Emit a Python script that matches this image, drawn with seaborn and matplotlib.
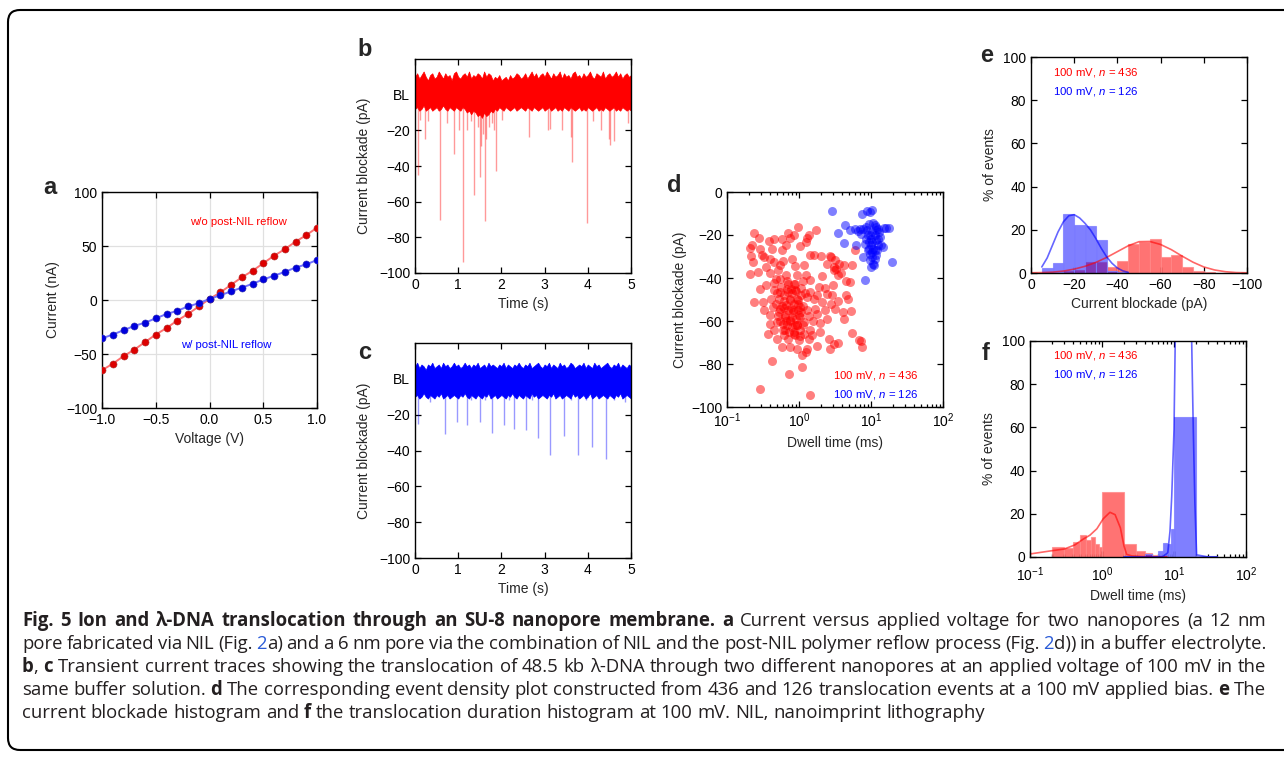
import numpy as np
import matplotlib
matplotlib.use("Agg")
import matplotlib.pyplot as plt
import seaborn as sns
from matplotlib.patches import FancyBboxPatch
from matplotlib.transforms import IdentityTransform

sns.set_style("ticks")
plt.rcParams['font.family'] = ['Liberation Sans', 'DejaVu Sans']
plt.rcParams['mathtext.fontset'] = 'custom'
plt.rcParams['mathtext.rm'] = 'Liberation Sans'
plt.rcParams['mathtext.it'] = 'Liberation Sans:italic'
plt.rcParams['mathtext.bf'] = 'Liberation Sans:bold'

W, H = 1284, 757

# ---- panel a: I-V curves
voltage = [-1.0, -0.9, -0.8, -0.7, -0.6, -0.5, -0.4, -0.3, -0.2, -0.1, 0.0,
           0.1, 0.2, 0.3, 0.4, 0.5, 0.6, 0.7, 0.8, 0.9, 1.0]
current_no_reflow = [-65, -59, -52, -46, -39, -32, -26, -19, -13, -6, 1,
                     7, 14, 21, 27, 34, 41, 47, 54, 60, 67]
current_reflow = [-35.5, -32, -28, -24, -21, -17, -13, -10, -6, -3, 1,
                  4.3, 8, 11.4, 15, 19, 22.5, 26, 30, 33, 37]

# ---- panels b, c: current traces (baseline band envelope every 0.05 s + events)
trace_time = np.round(np.arange(0, 5.001, 0.05), 2)
b_upper = [10, 12, 9, 11, 13, 10, 8, 11, 12, 9,
           10, 13, 11, 9, 12, 10, 11, 8, 12, 13,
           10, 9, 11, 12, 10, 13, 9, 11, 10, 12,
           11, 9, 13, 10, 12, 11, 8, 10, 9, 11,
           8, 9, 10, 8, 11, 9, 10, 12, 11, 9,
           10, 12, 9, 11, 13, 10, 12, 9, 11, 12,
           10, 13, 11, 9, 12, 10, 11, 13, 9, 12,
           10, 11, 9, 12, 13, 10, 11, 9, 12, 10,
           11, 13, 10, 9, 12, 11, 10, 13, 9, 11,
           12, 10, 11, 13, 10, 12, 9, 11, 12, 10, 11]
b_lower = [-8, -7, -9, -8, -6, -9, -8, -7, -9, -8,
           -7, -9, -8, -6, -8, -9, -7, -8, -9, -7,
           -8, -9, -7, -8, -10, -9, -11, -9, -10, -12,
           -11, -13, -10, -12, -11, -9, -10, -8, -9, -7,
           -8, -9, -7, -8, -9, -8, -7, -9, -8, -7,
           -8, -9, -7, -8, -9, -7, -8, -9, -8, -7,
           -9, -8, -7, -9, -8, -7, -9, -8, -9, -7,
           -8, -9, -7, -8, -9, -8, -7, -9, -8, -9,
           -7, -8, -9, -8, -7, -9, -8, -9, -7, -8,
           -9, -8, -7, -9, -8, -9, -7, -8, -9, -8, -9]
b_event_t = [0.08, 0.11, 0.23, 0.30, 0.57, 0.73, 0.90, 1.02, 1.11, 1.21, 1.30, 1.37, 1.45,
             1.50, 1.52, 1.58, 1.61, 1.65, 1.72, 1.78, 1.82, 1.87, 2.02, 2.65, 3.08, 3.12,
             3.40, 3.61, 3.63, 3.99, 4.12, 4.31, 4.49, 4.52, 4.61, 4.92]
b_event_depth = [-45, -14, -25, -15, -70, -16, -33, -20, -94, -20, -15, -56, -18,
                 -46, -29, -22, -71, -25, -18, -16, -20, -43, -14, -24, -20, -19,
                 -20, -24, -38, -72, -15, -20, -25, -28, -26, -16]

c_upper = [7, 9, 6, 8, 7, 5, 8, 7, 9, 6,
           7, 8, 6, 9, 7, 8, 6, 7, 9, 7,
           8, 6, 7, 9, 7, 8, 6, 8, 7, 9,
           6, 7, 8, 6, 9, 7, 8, 7, 6, 8,
           7, 9, 6, 8, 7, 6, 8, 7, 9, 7,
           6, 8, 7, 9, 6, 7, 8, 9, 7, 6,
           8, 7, 9, 6, 8, 7, 6, 9, 7, 8,
           6, 7, 9, 8, 6, 7, 8, 7, 9, 6,
           8, 7, 6, 9, 7, 8, 6, 7, 8, 9,
           7, 6, 8, 7, 9, 6, 8, 7, 6, 8, 7]
c_lower = [-10, -9, -11, -10, -8, -10, -11, -9, -10, -11,
           -9, -10, -8, -11, -10, -9, -11, -10, -9, -10,
           -11, -9, -10, -8, -10, -11, -9, -10, -11, -9,
           -10, -11, -9, -10, -8, -11, -10, -9, -11, -10,
           -9, -10, -11, -9, -10, -8, -10, -11, -9, -10,
           -11, -9, -10, -11, -8, -10, -9, -11, -10, -9,
           -10, -11, -9, -10, -8, -11, -10, -9, -11, -10,
           -9, -10, -11, -8, -10, -9, -11, -10, -9, -11,
           -10, -8, -11, -10, -9, -11, -10, -9, -10, -11,
           -9, -10, -11, -9, -10, -8, -11, -10, -9, -10, -11]
c_event_t = [0.08, 0.34, 0.70, 0.98, 1.21, 1.30, 1.50, 1.62, 1.78, 2.05, 2.18, 2.29, 2.57,
             2.70, 2.85, 3.13, 3.44, 3.60, 3.78, 3.95, 4.09, 4.41, 4.60, 4.85]
c_event_depth = [-25, -13, -31, -24, -26, -12, -24, -12, -30, -26, -12, -28, -28.5,
                 -12, -33, -42.5, -32, -12, -42.5, -12, -38, -44.5, -12, -13]

# ---- panel d: event scatter
dwell_red = [0.97, 0.24, 0.275, 0.207, 0.225, 0.29, 0.379, 0.445, 0.581, 0.703,
             0.844, 0.758, 1.29, 1.74, 1.36, 1.26, 1.02, 0.667, 0.581, 0.422,
             0.306, 0.216, 0.23, 0.33, 0.392, 0.352, 0.445, 0.539, 0.6, 0.8,
             0.889, 1.16, 1.41, 1.63, 2.02, 2.72, 0.207, 0.267, 0.4, 0.505,
             0.667, 0.938, 1.25, 2.09, 3.03, 2.45,
             0.284, 0.352, 0.445, 0.484, 0.55, 0.681, 0.844, 1.14, 1.41, 1.88,
             2.32, 2.96, 0.445, 0.55, 0.696, 0.889, 1.07, 1.44, 1.78, 2.45,
             0.24, 0.316, 0.409, 0.522, 0.612, 0.758, 0.938, 1.29, 1.63, 2.09,
             2.78, 0.323, 0.435, 0.55, 0.667, 0.826, 1.02, 1.29, 1.69, 2.32,
             3.2, 0.4, 0.505, 0.645, 0.8, 0.989, 1.36, 1.78, 2.45, 0.392,
             0.494, 0.6, 0.758, 0.938, 1.19, 1.56, 1.98,
             0.445, 0.645, 0.844, 1.04, 1.44, 1.94, 0.367, 0.612, 0.889, 1.16,
             1.52, 0.494, 0.696, 0.989, 1.36, 2.58, 3.03, 0.581, 0.758, 0.938,
             1.29, 1.78, 1.1, 1.26, 0.422, 1.1, 0.718, 0.29, 1.41,
             2.81, 3.13, 3.59, 4.17, 5.51, 3.3, 3.03, 3.87, 3.48, 4.45,
             5.16, 2.9, 4.54, 4.8, 3.48, 5.93, 5.3, 4.1, 4.2, 5.5,
             6.9, 7.3, 7.4, 3.5, 2.7,
             0.5, 0.56, 0.62, 0.68, 0.74, 0.8, 0.86, 0.92, 0.98, 1.05, 1.12, 1.2,
             0.52, 0.58, 0.64, 0.7, 0.76, 0.83, 0.9, 0.97, 1.04, 1.12,
             0.48, 0.55, 0.62, 0.69, 0.78, 0.87, 0.96, 1.06,
             0.6, 0.66, 0.72, 0.79, 0.86, 0.94, 1.02, 0.7, 0.78, 0.88]
block_red = [-16.3, -18.9, -21.4, -26.0, -24.8, -26.4, -22.9, -22.0, -21.7, -18.9,
             -20.2, -21.4, -21.4, -17.8, -19.8, -23.3, -25.1, -24.8, -27.1, -26.4,
             -29.5, -29.9, -32.6, -30.2, -31.0, -34.9, -32.6, -34.1, -32.2, -31.3,
             -34.4, -34.1, -29.5, -29.5, -29.8, -29.8, -38.0, -37.2, -37.5, -36.4,
             -38.4, -38.8, -38.4, -39.2, -34.9, -33.3,
             -45.0, -43.1, -42.2, -40.3, -40.3, -41.6, -42.6, -41.6, -41.1, -44.2,
             -44.7, -43.4, -45.7, -46.5, -46.5, -45.7, -44.7, -46.5, -47.8, -47.3,
             -51.2, -51.2, -49.6, -49.6, -50.9, -49.6, -49.6, -48.8, -49.9, -51.2,
             -51.9, -55.0, -53.5, -54.3, -52.7, -55.0, -53.5, -55.0, -54.3, -55.0,
             -54.3, -57.4, -57.7, -57.1, -58.1, -57.4, -57.7, -56.6, -58.9, -61.2,
             -60.5, -61.2, -59.7, -62.0, -60.5, -60.2, -60.8,
             -64.3, -64.3, -65.1, -64.3, -64.3, -65.1, -65.9, -66.7, -66.7, -65.9,
             -66.7, -68.2, -68.2, -69.0, -68.2, -68.2, -70.5, -72.1, -72.1, -72.9,
             -72.9, -71.6, -75.7, -74.4, -78.6, -81.4, -84.8, -91.5, -94.6,
             -30.2, -31.8, -33.3, -34.1, -34.1, -35.7, -36.4, -37.5, -38.8, -41.6,
             -41.9, -47.8, -47.8, -49.6, -50.9, -27.1, -55.5, -55.8, -59.1, -65.4,
             -68.7, -69.5, -71.9, -70.1, -72.9,
             -47, -44, -48, -45, -50, -47, -52, -46, -50, -48, -53, -47,
             -56, -53, -58, -55, -60, -56, -59, -55, -58, -62,
             -52, -60, -54, -62, -54, -62, -52, -56,
             -64, -60, -65, -63, -66, -62, -67, -43, -45, -43]
dwell_blue = [2.90, 4.31, 3.48, 4.17, 6.12, 5.16, 5.93, 7.58, 8.81, 9.59,
              10.4, 7.74, 8.43, 9.38, 10.7, 11.2, 11.9, 10.4, 9.80, 11.2,
              9.38, 10.1, 10.7, 9.08, 9.59, 10.4, 11.2, 10.7, 10.1, 10.9,
              11.9, 12.5, 13.9, 14.7, 15.0, 16.3, 17.8, 12.5, 12.9, 8.17,
              7.74, 8.17, 19.8, 9.08, 8.81, 7.35, 6.61, 7.11, 8.61, 10.1,
              11.9, 10.4, 9.59, 11.2, 12.1, 13.2, 12.5, 11.6, 9.38, 10.4]
block_blue = [-9.0, -15.2, -18.9, -23.6, -24.5, -17.8, -17.1, -10.1, -9.0, -9.3,
              -8.5, -17.1, -16.3, -14.7, -14.3, -15.2, -16.3, -18.6, -20.2, -20.2,
              -23.3, -24.8, -26.4, -27.1, -28.7, -30.2, -31.0, -33.3, -34.9, -34.1,
              -29.5, -24.8, -24.8, -25.6, -16.7, -16.7, -16.7, -21.7, -18.6, -24.0,
              -30.2, -41.1, -32.6, -20.2, -17.8, -19.4, -18.3, -17.1, -21.7, -21.7,
              -22.5, -27.9, -31.8, -27.1, -27.1, -20.9, -17.1, -17.8, -26.4, -23.3]

# ---- panel e: current blockade histograms and fits
e_blue_centers = [-7.5, -12.5, -17.5, -22.5, -27.5, -32.5, -37.5, -42.5]
e_blue_pct = [2.2, 4.5, 27.5, 22.2, 21.7, 15.5, 1.0, 0.5]
e_red_centers = [-17.5, -22.5, -27.5, -32.5, -37.5, -42.5, -47.5, -52.5, -57.5,
                 -62.5, -67.5, -72.5, -77.5, -82.5]
e_red_pct = [1.0, 1.5, 4.9, 4.9, 3.0, 5.5, 13.3, 14.5, 15.8, 7.5, 8.3, 2.7, 1.0, 0.3]
e_red_fit_x = [0, -5, -10, -15, -20, -25, -30, -35, -40, -45, -50, -55, -60, -65,
               -70, -75, -80, -85, -90, -95, -100]
e_red_fit_y = [0.1, 0.2, 0.4, 0.9, 1.8, 3.1, 4.9, 7.2, 9.9, 12.6, 14.5, 14.6, 13.2,
               10.8, 7.8, 5.0, 2.8, 1.4, 0.6, 0.2, 0.1]
e_blue_fit_x = [-5, -7.5, -10, -12.5, -15, -17.5, -20, -22.5, -25, -27.5, -30,
                -32.5, -35, -37.5, -40, -42.5, -45]
e_blue_fit_y = [2.8, 7.0, 13.0, 19.0, 23.7, 26.5, 27.0, 25.5, 23.0, 20.0, 16.0,
                11.5, 7.5, 4.5, 2.3, 1.0, 0.3]

# ---- panel f: dwell time histograms and fits
f_red_left = [0.2, 0.3, 0.4, 0.5, 0.6, 0.7, 0.8, 0.9, 1, 2, 3, 4, 5, 6, 7]
f_red_right = [0.3, 0.4, 0.5, 0.6, 0.7, 0.8, 0.9, 1, 2, 3, 4, 5, 6, 7, 8]
f_red_pct = [4.6, 4.3, 6.8, 10.0, 7.9, 9.2, 6.0, 4.6, 30.0, 6.0, 2.8, 2.0, 0.8, 0.5, 0.3]
f_blue_left = [2, 3, 4, 5, 6, 7, 8, 9, 10, 20, 30]
f_blue_right = [3, 4, 5, 6, 7, 8, 9, 10, 20, 30, 40]
f_blue_pct = [0.3, 0.4, 1.3, 0.6, 2.8, 6.6, 5.8, 12.8, 65.0, 0.5, 0.4]
f_red_fit_x = [0.1, 0.2, 0.3, 0.42, 0.55, 0.68, 0.85, 1.04, 1.29, 1.52, 1.8, 2.02,
               2.2, 2.6, 4, 8]
f_red_fit_y = [1.4, 2.9, 3.7, 5.6, 8.3, 10.1, 13.1, 17.7, 20.7, 19.6, 13.5, 5.1,
               1.2, 0.5, 0.1, 0.0]
f_blue_fit_x = [2, 5, 7, 8.2, 8.8, 9.3, 10.0, 10.4, 11.5, 14, 17.6, 18.5, 19.5,
                20.6, 30, 40]
f_blue_fit_y = [0, 0, 0.2, 2, 12, 28, 59, 100, 140, 150, 100, 60, 25, 1, 0, 0]

RED = '#ff0000'
BLUE = '#0000ff'
TXT = 10

fig = plt.figure(figsize=(12.84, 7.57), dpi=100)


def add_ax(x0, y0, x1, y1):
    return fig.add_axes([x0 / W, 1 - y1 / H, (x1 - x0) / W, (y1 - y0) / H])


def style(ax):
    for s in ax.spines.values():
        s.set_color('black')
        s.set_linewidth(1.0)
    ax.tick_params(which='both', direction='in', top=True, right=True,
                   labelsize=TXT, width=0.9, colors='black')
    ax.tick_params(which='major', length=4)
    ax.tick_params(which='minor', length=2)


def panel_letter(x, y, s):
    fig.text(x / W, 1 - y / H, s, fontsize=17, fontweight='bold',
             ha='center', va='center')


# panel a
ax = add_ax(102, 192, 317, 408)
ax.grid(True, color='#e0e0e0', lw=0.9)
ax.set_axisbelow(True)
sns.lineplot(x=voltage, y=current_no_reflow, ax=ax, color='#ff7070', lw=1.4)
sns.lineplot(x=voltage, y=current_reflow, ax=ax, color='#7070ff', lw=1.4)
sns.scatterplot(x=voltage, y=current_no_reflow, ax=ax, color='#dd0000', s=26,
                edgecolor='#aa3333', linewidth=0.4, zorder=3)
sns.scatterplot(x=voltage, y=current_reflow, ax=ax, color='#0000dd', s=26,
                edgecolor='#3333aa', linewidth=0.4, zorder=3)
ax.set_xlim(-1, 1)
ax.set_ylim(-100, 100)
ax.set_xticks([-1.0, -0.5, 0.0, 0.5, 1.0])
ax.set_yticks([-100, -50, 0, 50, 100])
ax.text(0.265, 72, 'w/o post-NIL reflow', color=RED, fontsize=8.2, ha='center', va='center')
ax.text(0.16, -42, 'w/ post-NIL reflow', color=BLUE, fontsize=8.2, ha='center', va='center')
ax.set_xlabel('Voltage (V)', fontsize=TXT)
ax.set_ylabel('Current (nA)', fontsize=TXT)
style(ax)
panel_letter(50, 187, 'a')


def trace_panel(box, upper, lower, ev_t, ev_d, col):
    ax = add_ax(*box)
    ax.vlines(ev_t, ev_d, 0, color=col, alpha=0.4, lw=1.0)
    ax.fill_between(trace_time, lower, upper, color=col, lw=0.5, edgecolor=col)
    ax.set_xlim(0, 5)
    ax.set_ylim(-100, 20)
    ax.set_xticks([0, 1, 2, 3, 4, 5])
    ax.set_yticks([-100, -80, -60, -40, -20, 0])
    ax.set_yticklabels(['\u2212100', '\u221280', '\u221260', '\u221240', '\u221220', 'BL'])
    ax.set_xlabel('Time (s)', fontsize=TXT)
    ax.set_ylabel('Current blockade (pA)', fontsize=TXT, labelpad=6)
    style(ax)
    return ax


trace_panel((415, 59, 631, 273), b_upper, b_lower, b_event_t, b_event_depth, RED)
panel_letter(365, 50, 'b')
trace_panel((415, 343, 631, 558), c_upper, c_lower, c_event_t, c_event_depth, BLUE)
panel_letter(365, 352, 'c')

# panel d
ax = add_ax(727, 192, 943, 407)
ax.set_xscale('log')
sns.scatterplot(x=dwell_red, y=block_red, ax=ax, color=RED, alpha=0.5, s=42, linewidth=0)
sns.scatterplot(x=dwell_blue, y=block_blue, ax=ax, color=BLUE, alpha=0.5, s=42, linewidth=0)
ax.set_xlim(0.1, 100)
ax.set_ylim(-100, 0)
ax.set_yticks([-100, -80, -60, -40, -20, 0])
ax.text(45, -85.5, '100 mV, $\\mathit{n}$ = 436', color=RED, fontsize=8.2, ha='right', va='center')
ax.text(45, -94.3, '100 mV, $\\mathit{n}$ = 126', color=BLUE, fontsize=8.2, ha='right', va='center')
ax.set_xlabel('Dwell time (ms)', fontsize=TXT)
ax.set_ylabel('Current blockade (pA)', fontsize=TXT, labelpad=3)
style(ax)
panel_letter(674, 185, 'd')

# panel e
ax = add_ax(1031, 57, 1247, 273)
ax.bar(e_red_centers, e_red_pct, width=5, color=(1, 0, 0, 0.55),
       edgecolor=(1, 0.55, 0.55, 0.8), lw=0.8)
ax.bar(e_blue_centers, e_blue_pct, width=5, color=(0, 0, 1, 0.5),
       edgecolor=(0.5, 0.5, 1, 0.8), lw=0.8)
sns.lineplot(x=e_red_fit_x, y=e_red_fit_y, ax=ax, color=RED, alpha=0.6, lw=1.2)
sns.lineplot(x=e_blue_fit_x, y=e_blue_fit_y, ax=ax, color=BLUE, alpha=0.6, lw=1.2)
ax.set_xlim(0, -100)
ax.set_ylim(0, 100)
ax.set_xticks([0, -20, -40, -60, -80, -100])
ax.set_yticks([0, 20, 40, 60, 80, 100])
ax.text(-10.2, 93, '100 mV, $\\mathit{n}$ = 436', color=RED, fontsize=8.2, ha='left', va='center')
ax.text(-10.2, 84, '100 mV, $\\mathit{n}$ = 126', color=BLUE, fontsize=8.2, ha='left', va='center')
ax.set_xlabel('Current blockade (pA)', fontsize=TXT)
ax.set_ylabel('% of events', fontsize=TXT)
style(ax)
panel_letter(987, 55, 'e')

# panel f
ax = add_ax(1030, 341, 1246, 557)
ax.set_xscale('log')
ax.bar(f_red_left, f_red_pct, width=np.subtract(f_red_right, f_red_left), align='edge',
       color=(1, 0, 0, 0.55), edgecolor=(1, 0.55, 0.55, 0.8), lw=0.8)
ax.bar(f_blue_left, f_blue_pct, width=np.subtract(f_blue_right, f_blue_left), align='edge',
       color=(0, 0, 1, 0.5), edgecolor=(0.5, 0.5, 1, 0.8), lw=0.8)
sns.lineplot(x=f_red_fit_x, y=f_red_fit_y, ax=ax, color=RED, alpha=0.6, lw=1.2)
sns.lineplot(x=f_blue_fit_x, y=f_blue_fit_y, ax=ax, color=BLUE, alpha=0.6, lw=1.2)
ax.set_xlim(0.1, 100)
ax.set_ylim(0, 100)
ax.set_yticks([0, 20, 40, 60, 80, 100])
ax.text(0.209, 93.5, '100 mV, $\\mathit{n}$ = 436', color=RED, fontsize=8.2, ha='left', va='center')
ax.text(0.209, 84.3, '100 mV, $\\mathit{n}$ = 126', color=BLUE, fontsize=8.2, ha='left', va='center')
ax.set_xlabel('Dwell time (ms)', fontsize=TXT)
ax.set_ylabel('% of events', fontsize=TXT)
style(ax)
ax.tick_params(axis='x', which='major', pad=6)
panel_letter(986, 353, 'f')

# ---- caption
INK = '#231f20'
LINK = '#2a5bd7'
caption = [
    [("Fig. 5 Ion and \u03bb-DNA translocation through an SU-8 nanopore membrane.", 'b'),
     (" ", 'n'), ("a", 'b'),
     (" Current versus applied voltage for two nanopores (a 12 nm", 'n')],
    [("pore fabricated via NIL (Fig. ", 'n'), ("2", 'l'),
     ("a) and a 6 nm pore via the combination of NIL and the post-NIL polymer reflow process (Fig. ", 'n'),
     ("2", 'l'), ("d)) in a buffer electrolyte.", 'n')],
    [("b", 'b'), (", ", 'n'), ("c", 'b'),
     (" Transient current traces showing the translocation of 48.5 kb \u03bb-DNA through two different nanopores at an applied voltage of 100 mV in the", 'n')],
    [("same buffer solution. ", 'n'), ("d", 'b'),
     (" The corresponding event density plot constructed from 436 and 126 translocation events at a 100 mV applied bias. ", 'n'),
     ("e", 'b'), (" The", 'n')],
    [("current blockade histogram and ", 'n'), ("f", 'b'),
     (" the translocation duration histogram at 100 mV. NIL, nanoimprint lithography", 'n')],
]
baselines = [626, 649, 672, 695, 718]
CAP_X0, CAP_X1 = 22, 1266
CAP_FONT = ['Open Sans', 'DejaVu Sans']
renderer = fig.canvas.get_renderer()
cap_size = 12


def cap_text(s, st):
    return fig.text(0, 0, s, fontsize=cap_size, family=CAP_FONT,
                    fontweight='bold' if st == 'b' else 'normal',
                    color=LINK if st == 'l' else INK, ha='left', va='baseline')


def text_width(t):
    return t.get_window_extent(renderer=renderer).width


# size the caption font so the plainest justified line (3rd) sets almost naturally
probe = cap_text(''.join(p for p, _ in caption[2]), 'n')
cap_size = 12 * (CAP_X1 - CAP_X0 - 8) / text_width(probe)
probe.remove()

probe1, probe2 = cap_text('a a', 'n'), cap_text('aa', 'n')
space_w = text_width(probe1) - text_width(probe2)
probe1.remove()
probe2.remove()


def caption_line(pieces, base, x0, x1=None):
    words = [[]]
    for txt, st in pieces:
        for i, part in enumerate(txt.split(' ')):
            if i > 0:
                words.append([])
            if part:
                words[-1].append((part, st))
    words = [w for w in words if w]
    rows, total = [], 0
    for w in words:
        row = []
        for part, st in w:
            t = cap_text(part, st)
            row.append((t, text_width(t)))
            total += row[-1][1]
        rows.append(row)
    gap = space_w if x1 is None else (x1 - x0 - total) / (len(words) - 1)
    x = x0
    for row in rows:
        for t, wd in row:
            t.set_position((x / W, 1 - base / H))
            x += wd
        x += gap


for i, (pieces, base) in enumerate(zip(caption, baselines)):
    caption_line(pieces, base, CAP_X0, CAP_X1 if i < 4 else None)

# frame around the figure
frame = FancyBboxPatch((8, 7), 1300, 740, boxstyle='round,pad=0,rounding_size=12',
                       transform=IdentityTransform(), fill=False, lw=1.5,
                       ec='black', clip_on=False)
fig.add_artist(frame)

fig.savefig('out.png', dpi=100)
